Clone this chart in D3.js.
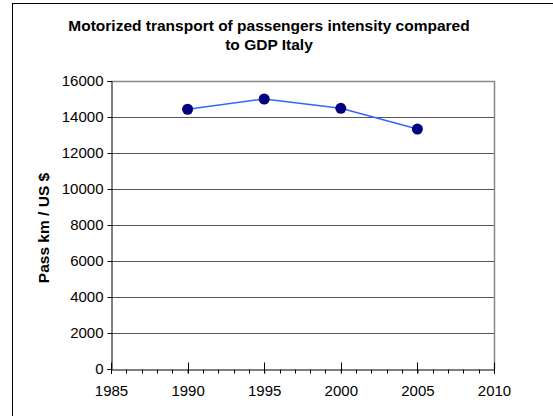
<!DOCTYPE html>
<html>
<head>
<meta charset="utf-8">
<script src="https://cdn.jsdelivr.net/npm/d3@7"></script>
<style>
  body { margin: 0; background: white; }
  text { font-family: "Liberation Sans", Arial, sans-serif; }
</style>
</head>
<body>
<div id="chart"></div>
<script>
// data
let years = [1990, 1995, 2000, 2005];
let intensity = [14430, 15000, 14480, 13330];
let yTicks = [0, 2000, 4000, 6000, 8000, 10000, 12000, 14000, 16000];
let xTicks = [1985, 1990, 1995, 2000, 2005, 2010];
let titleLines = ["Motorized transport of passengers intensity compared", "to GDP Italy"];

let W = 553, H = 416;
let margin = { top: 81, left: 111, right: 59, bottom: 47 },
  width = W - margin.left - margin.right,
  height = H - margin.top - margin.bottom;

let svg = d3.select('#chart').append('svg')
  .attr('width', W)
  .attr('height', H);

// outer frame
svg.append('rect')
  .attr('x', 12.5).attr('y', 3.5)
  .attr('width', W).attr('height', H)
  .attr('fill', 'white').attr('stroke', 'black').attr('stroke-width', 1);

let x = d3.scaleLinear().domain([1985, 2010]).range([0, width]);
let y = d3.scaleLinear().domain([0, 16000]).range([height, 0]);

let g = svg.append('g').attr('transform', 'translate(' + margin.left + ',' + margin.top + ')');

// gridlines
g.selectAll('.grid')
  .data(yTicks.filter(d => d > 0 && d < 16000))
  .enter().append('line')
  .attr('x1', 0).attr('x2', width)
  .attr('y1', d => Math.round(y(d)) + 0.5).attr('y2', d => Math.round(y(d)) + 0.5)
  .attr('stroke', '#555').attr('stroke-width', 1);

// plot area top and right border (gray)
g.append('path')
  .attr('d', 'M0,0.5H' + (width + 0.5) + 'V' + height)
  .attr('fill', 'none').attr('stroke', '#888').attr('stroke-width', 1.5);

// y axis
let yAxis = g.append('g')
  .attr('transform', 'translate(0.5,0)')
  .call(d3.axisLeft(y).tickValues(yTicks).tickSize(4).tickPadding(4).tickFormat(d3.format('d')));
yAxis.select('.domain').attr('stroke', 'black');
yAxis.selectAll('text').attr('font-size', 15).attr('fill', 'black');

// x axis minor ticks
let minor = d3.range(1985, 2011);
g.append('g')
  .attr('transform', 'translate(0,' + (height + 0.5) + ')')
  .selectAll('line').data(minor).enter().append('line')
  .attr('x1', d => Math.round(x(d)) + 0.5).attr('x2', d => Math.round(x(d)) + 0.5)
  .attr('y1', d => d % 5 === 0 ? -7 : 0).attr('y2', 4)
  .attr('stroke', 'black');

let xAxis = g.append('g')
  .attr('transform', 'translate(0,' + (height + 0.5) + ')')
  .call(d3.axisBottom(x).tickValues(xTicks).tickSize(4).tickPadding(12).tickFormat(d3.format('d')));
xAxis.select('.domain').attr('stroke', 'black');
xAxis.selectAll('text').attr('font-size', 15).attr('fill', 'black');

// line
let pts = years.map((d, i) => [d, intensity[i]]);
g.append('path')
  .datum(pts)
  .attr('fill', 'none')
  .attr('stroke', '#3366ff')
  .attr('stroke-width', 1.5)
  .attr('d', d3.line().x(d => x(d[0])).y(d => y(d[1])));

g.selectAll('.dot')
  .data(pts)
  .enter().append('circle')
  .attr('cx', d => x(d[0])).attr('cy', d => y(d[1]))
  .attr('r', 5.5)
  .attr('fill', '#000080');

// title
svg.append('text')
  .attr('x', 269).attr('y', 31)
  .attr('text-anchor', 'middle')
  .attr('font-size', 15.5).attr('font-weight', 'bold')
  .selectAll('tspan').data(titleLines).enter().append('tspan')
  .attr('x', 269).attr('dy', (d, i) => i === 0 ? 0 : 19)
  .text(d => d);

// y label
svg.append('text')
  .attr('transform', 'translate(49,228) rotate(-90)')
  .attr('text-anchor', 'middle')
  .attr('font-size', 15.5).attr('font-weight', 'bold')
  .text('Pass km / US $');
</script>
</body>
</html>
